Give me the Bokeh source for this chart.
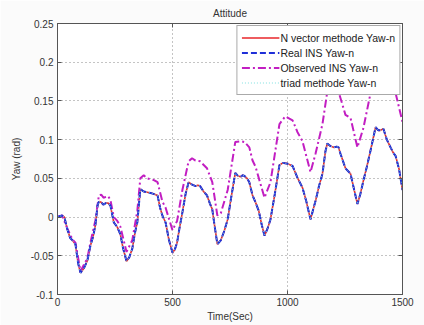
from bokeh.plotting import figure
from bokeh.models import (LinearAxis, FixedTicker, Legend, LegendItem, Range1d, CustomLabelingPolicy)
from bokeh.embed import file_html
from bokeh.resources import INLINE

# ---------------- data ----------------
time_real = [0, 20, 30, 43, 55, 65, 78, 90, 100, 115, 130, 143, 155, 165, 174, 180, 190, 200, 210, 220,
             230, 240, 245, 260, 273, 285, 300, 312, 325, 337, 347, 360, 375, 390, 405, 417, 435, 446, 456, 470,
             485, 500, 510, 520, 530, 543, 557, 570, 585, 600, 610, 620, 635, 650, 662, 673, 680, 695, 710, 725,
             740, 755, 773, 785, 796, 805, 813, 824, 834, 848, 861, 875, 888, 900, 913, 926, 945, 965, 980, 1000,
             1022, 1043, 1065, 1082, 1100, 1110, 1122, 1137, 1152, 1165, 1173, 1185, 1200, 1215, 1222, 1230, 1252,
             1274, 1290, 1304, 1317, 1330, 1345, 1361, 1383, 1395, 1404, 1417, 1432, 1448, 1460, 1470, 1485, 1500]
yaw_real = [0.0, 0.002, 0.0, -0.016, -0.027, -0.030, -0.035, -0.060, -0.072, -0.066, -0.056, -0.037, -0.025,
            -0.010, 0.015, 0.020, 0.019, 0.016, 0.018, 0.018, 0.015, 0.0, -0.007, -0.013, -0.022, -0.040, -0.057,
            -0.052, -0.041, -0.020, -0.007, 0.036, 0.033, 0.032, 0.031, 0.030, 0.028, 0.012, 0.002, -0.007, -0.030,
            -0.046, -0.042, -0.033, -0.015, 0.006, 0.030, 0.045, 0.042, 0.040, 0.041, 0.040, 0.033, 0.028, 0.018,
            0.010, -0.005, -0.035, -0.030, -0.018, -0.003, 0.025, 0.057, 0.053, 0.052, 0.054, 0.053, 0.050, 0.045,
            0.028, 0.019, 0.008, -0.010, -0.024, -0.015, -0.003, 0.030, 0.067, 0.070, 0.069, 0.066, 0.051, 0.038,
            0.020, -0.003, 0.008, 0.021, 0.040, 0.056, 0.085, 0.095, 0.092, 0.090, 0.091, 0.090, 0.082, 0.063,
            0.056, 0.035, 0.017, 0.030, 0.047, 0.065, 0.086, 0.116, 0.112, 0.112, 0.114, 0.100, 0.090, 0.083,
            0.079, 0.062, 0.035]
yaw_nvector = list(yaw_real)
yaw_triad = list(yaw_real)

time_obs = [0, 20, 43, 65, 78, 100, 130, 143, 165, 180, 190, 200, 220, 230, 245, 260, 273, 300, 325, 347,
            360, 375, 390, 417, 435, 456, 470, 500, 520, 543, 570, 585, 600, 620, 650, 673, 695, 710, 740, 773,
            796, 813, 834, 848, 861, 900, 926, 965, 990, 1022, 1043, 1065, 1100, 1122, 1152, 1173, 1200, 1222,
            1252, 1274, 1304, 1330, 1361, 1383, 1404, 1417, 1448, 1470, 1500]
yaw_obs = [0.0, 0.002, -0.015, -0.029, -0.033, -0.070, -0.053, -0.033, -0.004, 0.028, 0.029, 0.025, 0.027,
           0.022, 0.0, -0.005, -0.012, -0.045, -0.030, 0.008, 0.050, 0.054, 0.050, 0.048, 0.045, 0.020, 0.012,
           -0.017, -0.005, 0.035, 0.072, 0.076, 0.073, 0.072, 0.063, 0.045, 0.002, 0.005, 0.035, 0.097, 0.098,
           0.097, 0.090, 0.073, 0.065, 0.025, 0.045, 0.120, 0.130, 0.125, 0.110, 0.098, 0.058, 0.082, 0.120,
           0.162, 0.165, 0.162, 0.132, 0.128, 0.090, 0.115, 0.160, 0.195, 0.190, 0.190, 0.170, 0.160, 0.123]

x_ticks = [0, 500, 1000, 1500]
x_tick_labels = ["0", "500", "1000", "1500"]
y_ticks = [-0.1, -0.05, 0, 0.05, 0.1, 0.15, 0.2, 0.25]
y_tick_labels = ["-0.1", "-0.05", "0", "0.05", "0.1", "0.15", "0.2", "0.25"]

FONT = "Liberation Sans"
TXT = "#333333"

p = figure(width=424, height=325, output_backend="svg", toolbar_location=None,
           x_range=Range1d(0, 1500), y_range=Range1d(-0.1, 0.25),
           min_border_left=57, min_border_right=22, min_border_top=23, min_border_bottom=31,
           title="Attitude")
p.background_fill_color = "white"
p.border_fill_color = "#fbfbfb"
p.outline_line_color = "#555555"
p.outline_line_width = 1

p.title.align = "center"
p.title.text_font = FONT
p.title.text_font_size = "10px"
p.title.text_font_style = "normal"
p.title.text_color = TXT
p.title.offset = 0
p.title.standoff = 2

for ax in (p.xaxis[0], p.yaxis[0]):
    ax.axis_line_color = "#555555"
    ax.major_tick_in = 4
    ax.major_tick_out = 0
    ax.minor_tick_line_color = None
    ax.major_tick_line_color = "#555555"
    ax.major_label_text_font = FONT
    ax.major_label_text_font_size = "10px"
    ax.major_label_text_color = TXT
    ax.axis_label_text_font = FONT
    ax.axis_label_text_font_size = "10px"
    ax.axis_label_text_font_style = "normal"
    ax.axis_label_text_color = TXT

p.xaxis.ticker = FixedTicker(ticks=x_ticks)
p.xaxis.major_label_overrides = dict(zip(x_ticks, x_tick_labels))
p.xaxis.axis_label = "Time(Sec)"
p.xaxis.major_label_standoff = 3
p.xaxis.axis_label_standoff = 2
p.yaxis.ticker = FixedTicker(ticks=y_ticks)
p.yaxis.major_label_overrides = dict(zip(y_ticks, y_tick_labels))
p.yaxis.axis_label = "Yaw (rad)"
p.yaxis.major_label_standoff = 4
p.yaxis.axis_label_standoff = 6

hide_all = CustomLabelingPolicy(code="""
try { for (const i of indices) { indices.unset(i) } } catch (e) {}
return indices
""")
for loc, tk in (("right", y_ticks), ("above", x_ticks)):
    a = LinearAxis(ticker=FixedTicker(ticks=tk), major_label_policy=hide_all)
    a.major_label_text_font_size = "1px"
    a.major_label_standoff = 0
    a.major_tick_in = 4
    a.major_tick_out = 0
    a.minor_tick_line_color = None
    a.axis_line_color = "#555555"
    a.major_tick_line_color = "#555555"
    p.add_layout(a, loc)

p.xgrid.ticker = FixedTicker(ticks=x_ticks)
p.ygrid.ticker = FixedTicker(ticks=y_ticks)
for g in (p.xgrid[0], p.ygrid[0]):
    g.grid_line_color = "#888888"
    g.grid_line_dash = "1 3"
    g.grid_line_width = 1

r_n = p.line(time_real, yaw_nvector, line_color="#e8262a", line_width=1.6)
r_o = p.line(time_obs, yaw_obs, line_color="#c21ec2", line_width=2, line_dash="8 3 2 3")
r_r = p.line(time_real, yaw_real, line_color="#1f2fd8", line_width=2, line_dash="6 3")
r_t = p.line(time_real, yaw_triad, line_color="#7fe0e0", line_width=1, line_dash="1 2")

legend = Legend(items=[
    LegendItem(label="N vector methode Yaw-n", renderers=[r_n]),
    LegendItem(label="Real INS Yaw-n", renderers=[r_r]),
    LegendItem(label="Observed INS Yaw-n", renderers=[r_o]),
    LegendItem(label="triad methode Yaw-n", renderers=[r_t]),
], location="top_right")
legend.margin = 2
legend.padding = 4
legend.spacing = 0
legend.glyph_width = 38
legend.glyph_height = 15
legend.label_height = 15
legend.label_standoff = 1
legend.label_text_font = FONT
legend.label_text_font_size = "10.5px"
legend.label_text_color = "#222222"
legend.border_line_color = "#555555"
legend.border_line_width = 1
legend.background_fill_color = "white"
legend.background_fill_alpha = 1
p.add_layout(legend, "center")

open("out.html", "w").write(file_html(p, INLINE))
